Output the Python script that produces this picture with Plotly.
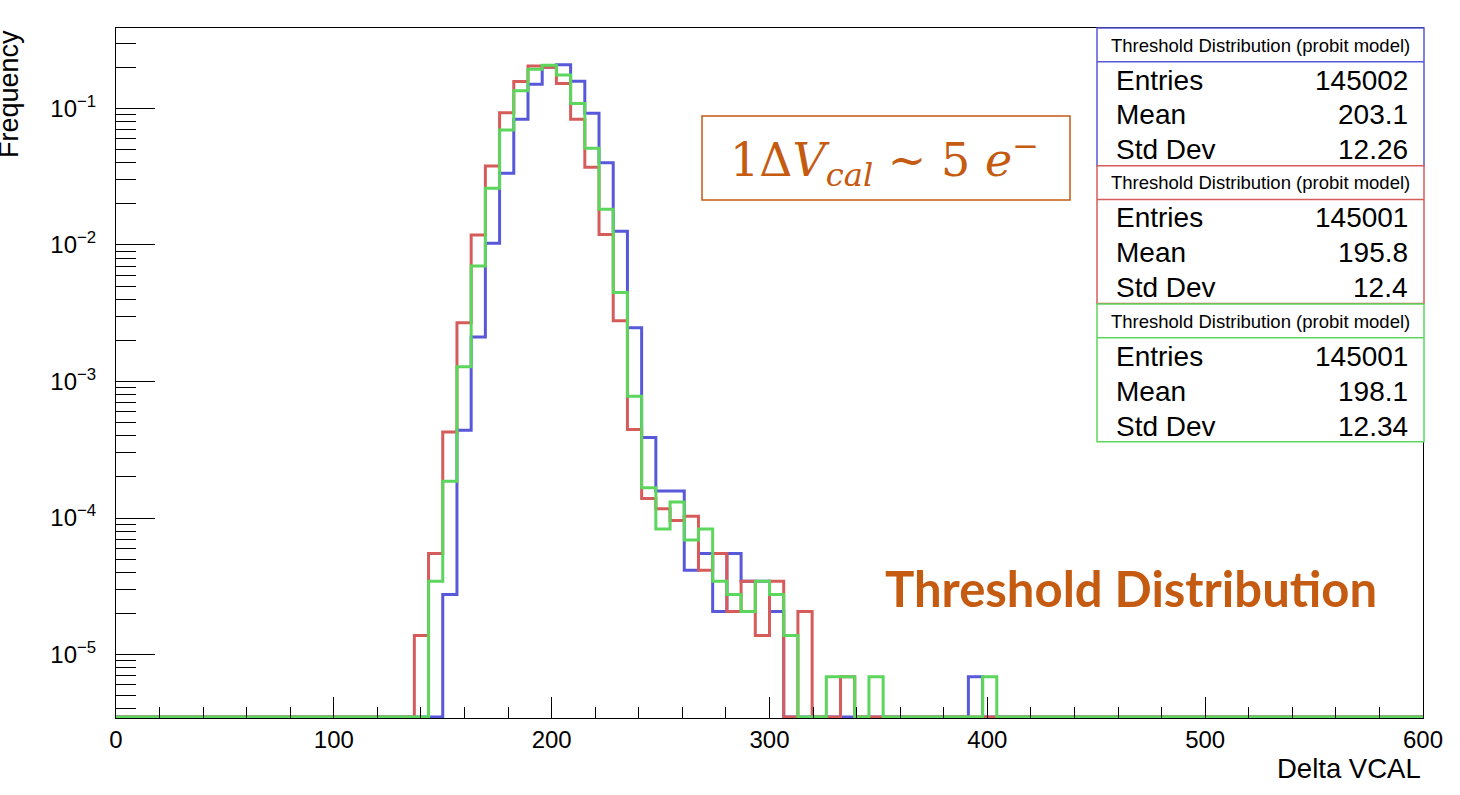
import plotly.graph_objects as go

# ---------------- data (frequencies) ----------------
X_MIN, X_MAX, N_BINS = 0.0, 600.0, 92
FIRST_BIN = 21  # index of the first listed bin

blue_freq = [0, 0, 2.75e-5, 4.4e-4, 2.12e-3, 1.03e-2, 3.34e-2, 8.3e-2, 0.150, 0.200,
             0.208, 0.158, 0.092, 0.040, 1.26e-2, 2.47e-3, 3.89e-4, 1.58e-4, 1.58e-4, 4.15e-5,
             5.5e-5, 2.07e-5, 5.5e-5, 3.45e-5, 3.45e-5, 2.07e-5, 0, 0, 0, 0,
             0, 0, 0, 0, 0, 0, 0, 0, 0, 6.9e-6, 0]
red_freq = [1.38e-5, 5.5e-5, 4.27e-4, 2.69e-3, 1.18e-2, 3.78e-2, 9.29e-2, 0.157, 0.204, 0.200,
            0.152, 0.083, 0.037, 1.19e-2, 2.78e-3, 4.45e-4, 1.39e-4, 1.17e-4, 9.6e-5, 1.03e-4,
            4.15e-5, 5.5e-5, 2.07e-5, 3.45e-5, 1.38e-5, 3.45e-5, 0, 2.07e-5, 0, 0,
            6.9e-6, 0, 0, 0, 0, 0, 0, 0, 0, 0, 0]
green_freq = [0, 3.45e-5, 1.86e-4, 1.28e-3, 7.0e-3, 2.6e-2, 6.93e-2, 0.1345, 0.193, 0.207,
              0.175, 0.1086, 0.051, 1.82e-2, 4.49e-3, 7.8e-4, 1.67e-4, 8.3e-5, 1.31e-4, 6.9e-5,
              8.3e-5, 3.45e-5, 2.75e-5, 2.07e-5, 3.45e-5, 2.75e-5, 1.38e-5, 0, 0, 6.9e-6,
              6.9e-6, 0, 6.9e-6, 0, 0, 0, 0, 0, 0, 0, 6.9e-6]

stat_titles = ["Threshold Distribution (probit model)"] * 3
stat_entries = ["145002", "145001", "145001"]
stat_means = ["203.1", "195.8", "198.1"]
stat_stds = ["12.26", "12.4", "12.34"]

x_tick_vals = [0, 100, 200, 300, 400, 500, 600]
y_tick_vals = [1e-5, 1e-4, 1e-3, 1e-2, 1e-1]
y_tick_text = ["10<sup>\u22125</sup>", "10<sup>\u22124</sup>", "10<sup>\u22123</sup>",
               "10<sup>\u22122</sup>", "10<sup>\u22121</sup>"]

# ---------------- styling / layout constants ----------------
W, H = 1460, 795
ML, MR, MT, MB = 116, 37, 28, 77
Y_LOG_RANGE = [-5.464, -0.412]
COLORS = ["#5858DA", "#D65C5C", "#5CD65C"]
ORANGE = "#C55A11"
FONT = "Liberation Sans, Arial, Helvetica, sans-serif"

PW, PH = W - ML - MR, H - MT - MB


def px(xp):
    return (xp - ML) / PW


def py(yp):
    return 1 - (yp - MT) / PH


floor_val = 10 ** (Y_LOG_RANGE[0] + 0.008)
bw = (X_MAX - X_MIN) / N_BINS
edges = [X_MIN + i * bw for i in range(N_BINS + 1)]


def full_series(vals):
    arr = [0.0] * N_BINS
    for i, v in enumerate(vals):
        arr[FIRST_BIN + i] = v
    arr = [v if v > 0 else floor_val for v in arr]
    return arr + [arr[-1]]


fig = go.Figure()
for vals, col in zip([blue_freq, red_freq, green_freq], COLORS):
    fig.add_trace(go.Scatter(x=edges, y=full_series(vals), mode="lines",
                             line=dict(color=col, width=3, shape="hv"),
                             showlegend=False, hoverinfo="skip"))

minor_vals = [k * 10 ** n for n in range(-6, 0) for k in range(2, 10)]

fig.update_layout(
    width=W, height=H, margin=dict(l=ML, r=MR, t=MT, b=MB),
    paper_bgcolor="white", plot_bgcolor="white",
    font=dict(family=FONT, size=24, color="black"),
    xaxis=dict(range=[X_MIN, X_MAX], showgrid=False, zeroline=False,
               showline=True, linecolor="black", linewidth=1, mirror=True,
               ticks="inside", ticklen=21, tickwidth=1, tickcolor="black",
               tickmode="array", tickvals=x_tick_vals,
               tickfont=dict(size=24), ticklabelstandoff=0,
               minor=dict(ticks="inside", ticklen=11, dtick=20, tick0=0,
                          tickcolor="black", tickwidth=1, showgrid=False)),
    yaxis=dict(type="log", range=Y_LOG_RANGE, showgrid=False, zeroline=False,
               showline=True, linecolor="black", linewidth=1, mirror=True,
               ticks="inside", ticklen=39, tickwidth=1, tickcolor="black",
               tickmode="array", tickvals=y_tick_vals, ticktext=y_tick_text,
               tickfont=dict(size=24), ticklabelstandoff=14,
               minor=dict(ticks="inside", ticklen=20, tickmode="array",
                          tickvals=minor_vals, tickcolor="black", tickwidth=1,
                          showgrid=False)),
)

shapes = []
annotations = []

# stat boxes
box_x0, box_x1 = 1097, 1424
box_tops = [28, 165.7, 304]
box_h = 137.7
for i, col in enumerate(COLORS):
    top = box_tops[i]
    shapes.append(dict(type="rect", xref="paper", yref="paper",
                       x0=px(box_x0), x1=px(box_x1), y0=py(top + box_h), y1=py(top),
                       line=dict(color=col, width=1.5), fillcolor="white", layer="above"))
    shapes.append(dict(type="line", xref="paper", yref="paper",
                       x0=px(box_x0), x1=px(box_x1), y0=py(top + 33.7), y1=py(top + 33.7),
                       line=dict(color=col, width=1.5), layer="above"))
    annotations.append(dict(xref="paper", yref="paper", x=px((box_x0 + box_x1) / 2),
                            y=py(top + 17), text=stat_titles[i], showarrow=False,
                            xanchor="center", yanchor="middle",
                            font=dict(family=FONT, size=18.5, color="black")))
    for j, (lab, val) in enumerate(zip(["Entries", "Mean", "Std Dev"],
                                       [stat_entries[i], stat_means[i], stat_stds[i]])):
        yy = top + 52 + j * 35
        annotations.append(dict(xref="paper", yref="paper", x=px(1114), y=py(yy),
                                text=lab, showarrow=False, xanchor="left", yanchor="middle",
                                font=dict(family=FONT, size=28, color="black")))
        annotations.append(dict(xref="paper", yref="paper", x=px(1410), y=py(yy),
                                text=val, showarrow=False, xanchor="right", yanchor="middle",
                                font=dict(family=FONT, size=28, color="black")))

# formula box
shapes.append(dict(type="rect", xref="paper", yref="paper",
                   x0=px(702), x1=px(1070), y0=py(200), y1=py(116),
                   line=dict(color=ORANGE, width=1.5), fillcolor="rgba(0,0,0,0)", layer="above"))
annotations.append(dict(xref="paper", yref="paper", x=px(884), y=py(160),
                        text="1\u0394<i>V</i><sub><i>cal</i></sub> ~ 5 <i>e</i><sup>\u2212</sup>",
                        showarrow=False, xanchor="center", yanchor="middle",
                        font=dict(family="DejaVu Serif, Liberation Serif, serif", size=46,
                                  color=ORANGE)))

# big orange label
annotations.append(dict(xref="paper", yref="paper", x=px(1131), y=py(588),
                        text="<b>Threshold Distribution</b>", showarrow=False,
                        xanchor="center", yanchor="middle",
                        font=dict(family="Lato, Open Sans, sans-serif", size=49, color=ORANGE)))

# axis titles
annotations.append(dict(xref="paper", yref="paper", x=1.0, y=py(768), text="Delta VCAL",
                        showarrow=False, xanchor="right", yanchor="middle",
                        font=dict(family=FONT, size=27.5, color="black")))
annotations.append(dict(xref="paper", yref="paper", x=px(9), y=1.0, text="Frequency",
                        textangle=-90, showarrow=False, xanchor="center", yanchor="top",
                        font=dict(family=FONT, size=27, color="black")))

fig.update_layout(shapes=shapes, annotations=annotations)
fig.write_html("out.html", config={"displayModeBar": False},
               post_script="document.body.style.margin='0px';")
